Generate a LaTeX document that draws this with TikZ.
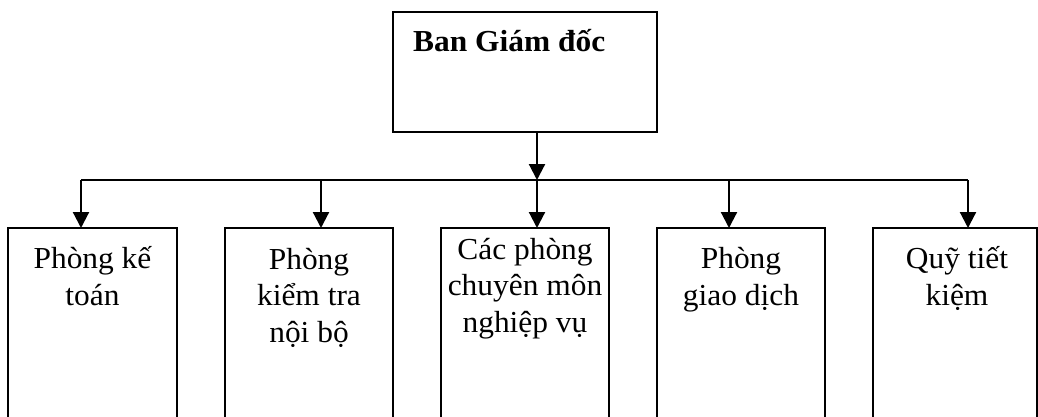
\documentclass[tikz,border=0pt]{standalone}
\usepackage{fontspec}
\setmainfont{Liberation Serif}[FakeStretch=1.03]
\usetikzlibrary{arrows.meta}
\begin{document}
\begin{tikzpicture}[x=1pt,y=-1pt,
  box/.style={draw, line width=2.2pt, inner sep=0pt, outer sep=0pt, anchor=north west},
  lbl/.style={align=center, inner sep=0pt, anchor=base, font=\fontsize{30.5}{36.5}\selectfont},
  head/.style={anchor=base west, inner sep=0pt, font=\fontsize{30.5}{36.5}\selectfont\bfseries},
  arr/.style={line width=2.2pt, -{Triangle[length=16pt,width=16pt]}},
  bus/.style={line width=2.2pt}]
\useasboundingbox (0,0) rectangle (1038,417);

% management box
\node[box, minimum width=264pt, minimum height=120pt] (ban) at (393,12) {};
\node[head] (bantext) at (413,52) {Ban Giám đốc};

% departments (boxes run past the lower edge)
\node[box, minimum width=169pt, minimum height=220pt] (k1) at (8,228) {};
\node[box, minimum width=168pt, minimum height=220pt] (k2) at (225,228) {};
\node[box, minimum width=168pt, minimum height=220pt] (k3) at (441,228) {};
\node[box, minimum width=168pt, minimum height=220pt] (k4) at (657,228) {};
\node[box, minimum width=164pt, minimum height=220pt] (k5) at (873,228) {};

% labels are placed by the baseline of their last line
\node[lbl] (t1) at (92.5,305) {Phòng kế\\toán};
\node[lbl] (t2) at (309,342) {Phòng\\kiểm tra\\nội bộ};
\node[lbl] (t3) at (525,332) {Các phòng\\chuyên môn\\nghiệp vụ};
\node[lbl] (t4) at (741,305) {Phòng\\giao dịch};
\node[lbl] (t5) at (957,305) {Quỹ tiết\\kiệm};

% distribution bus
\coordinate (hub) at (537,180);
\coordinate (d1) at (81,180);
\coordinate (d2) at (321,180);
\coordinate (d3) at (537,180);
\coordinate (d4) at (729,180);
\coordinate (d5) at (968,180);

\draw[bus] (d1) -- (d5);
\draw[arr] (ban.south -| hub) -- (hub);
\draw[arr] (d1) -- (d1 |- k1.north);
\draw[arr] (d2) -- (d2 |- k2.north);
\draw[arr] (d3) -- (d3 |- k3.north);
\draw[arr] (d4) -- (d4 |- k4.north);
\draw[arr] (d5) -- (d5 |- k5.north);
\end{tikzpicture}
\end{document}
